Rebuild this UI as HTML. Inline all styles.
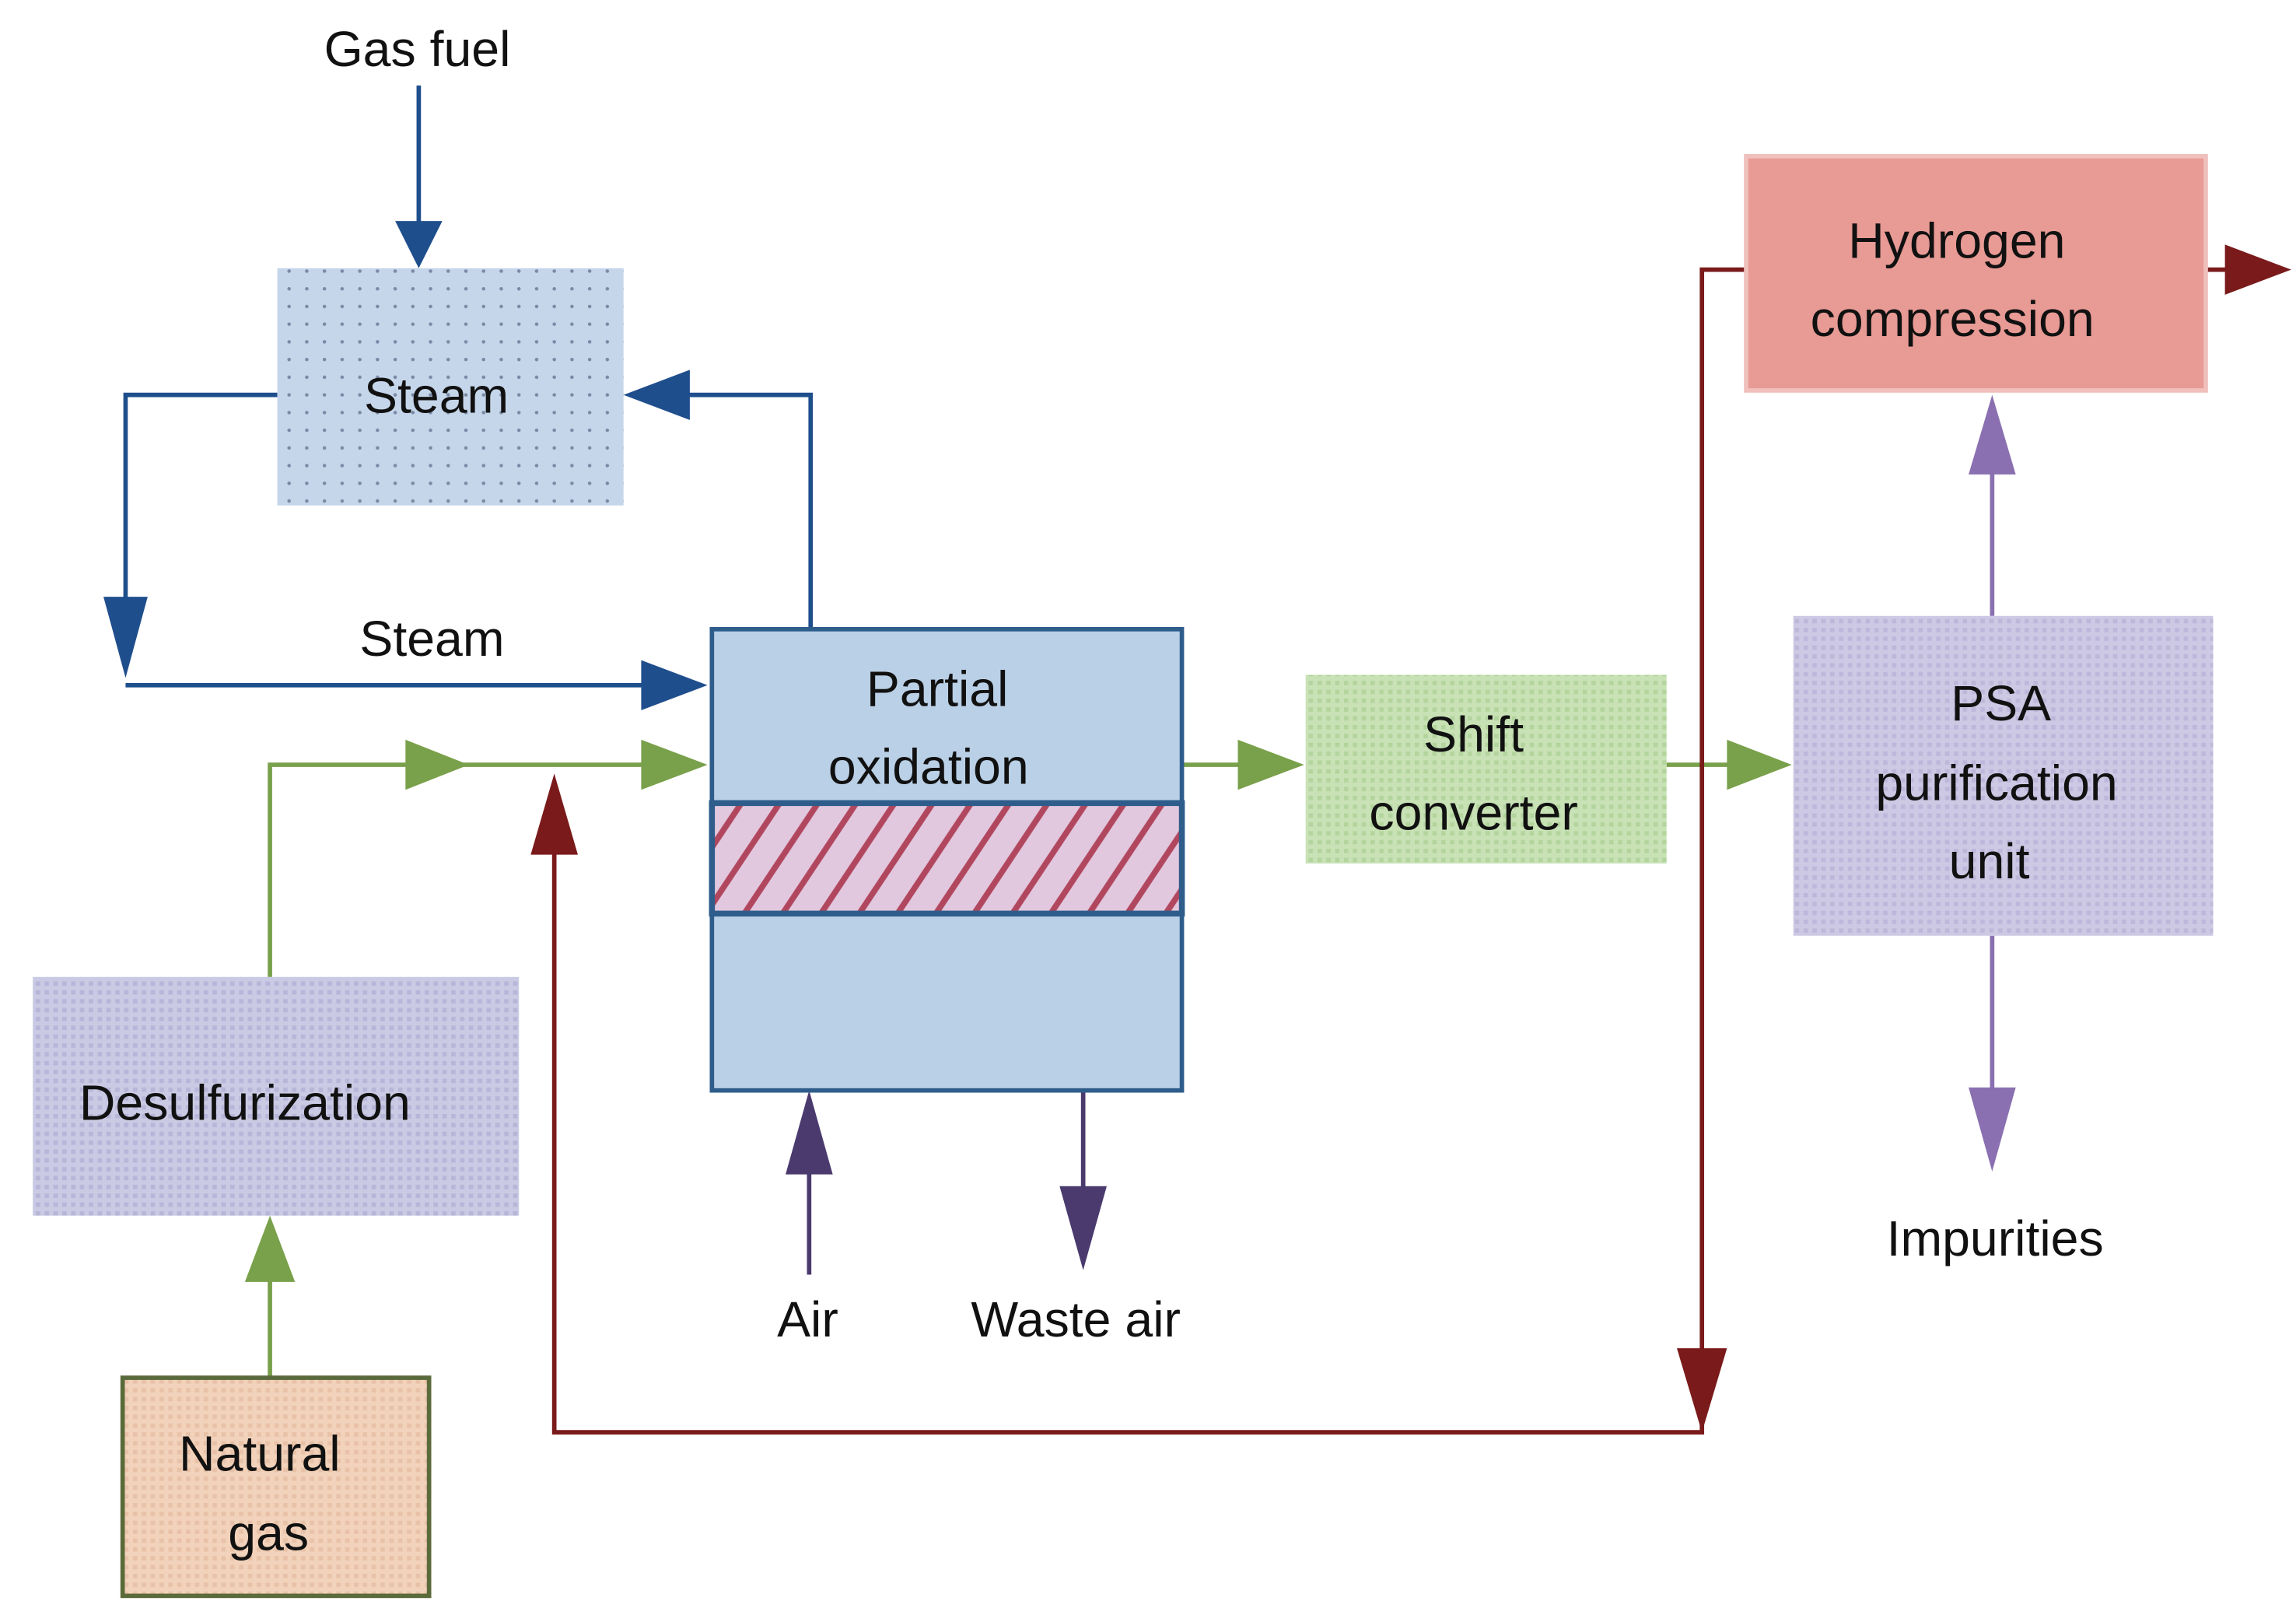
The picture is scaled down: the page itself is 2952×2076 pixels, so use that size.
<!DOCTYPE html>
<html><head><meta charset="utf-8"><style>html,body{margin:0;padding:0;background:#fff}svg{display:block}</style></head>
<body>
<svg width="2952" height="2076" viewBox="0 0 1558 1096" xmlns="http://www.w3.org/2000/svg" font-family="Liberation Sans, sans-serif" font-size="34" text-anchor="middle">
<defs>
<pattern id="dots" width="12" height="12" patternUnits="userSpaceOnUse"><rect width="12" height="12" fill="#c6d6ea"/><circle cx="4" cy="4" r="1.2" fill="#7a8aa6"/></pattern>
<pattern id="chk" width="6" height="6" patternUnits="userSpaceOnUse"><rect width="6" height="6" fill="#cacae4"/><rect width="3" height="3" fill="#b8b6d8"/></pattern>
<pattern id="chkg" width="6" height="6" patternUnits="userSpaceOnUse"><rect width="6" height="6" fill="#c8e2b6"/><rect width="3" height="3" fill="#b4d49e"/></pattern>
<pattern id="chkp" width="6" height="6" patternUnits="userSpaceOnUse"><rect width="6" height="6" fill="#cdc9e4"/><rect width="3" height="3" fill="#bdb8da"/></pattern>
<pattern id="chko" width="6" height="6" patternUnits="userSpaceOnUse"><rect width="6" height="6" fill="#f2d2ba"/><rect width="3" height="3" fill="#e8c2a8"/></pattern>
<pattern id="hatch" width="26" height="75" patternUnits="userSpaceOnUse" patternTransform="translate(483,545)"><rect width="26" height="75" fill="#e2c8de"/><line x1="-30" y1="75" x2="20" y2="0" stroke="#b0475e" stroke-width="4"/><line x1="-4" y1="75" x2="46" y2="0" stroke="#b0475e" stroke-width="4"/><line x1="22" y1="75" x2="72" y2="0" stroke="#b0475e" stroke-width="4"/></pattern>
</defs>
<rect width="1558" height="1096" fill="#fff"/>
<g fill="none" stroke-width="3">
<path d="M284 58V160" stroke="#1f4e8c"/>
<path d="M188 268H85V420M85 465H440M550 427V268H460" stroke="#1f4e8c"/>
<path d="M183 663V519H440" stroke="#79a04a"/>
<path d="M802 519H845M1131 519H1175" stroke="#79a04a"/>
<path d="M183 935V860" stroke="#79a04a"/>
<path d="M376 570V972H1155V183H1187M1497 183H1515" stroke="#7a1a1a"/>
<path d="M549 865V785M735 740V815" stroke="#4a3a6e"/>
<path d="M1352 418V310M1352 635V745" stroke="#8a70b0"/>
</g>
<g fill="#1f4e8c">
<polygon points="268,150 300,150 284,182"/>
<polygon points="70,405 100,405 85,460"/>
<polygon points="435,448 435,482 480,465"/>
<polygon points="468,251 468,285 423,268"/>
</g>
<g fill="#79a04a">
<polygon points="275,502 275,536 318,519"/>
<polygon points="435,502 435,536 480,519"/>
<polygon points="840,502 840,536 885,519"/>
<polygon points="1172,502 1172,536 1216,519"/>
<polygon points="166,870 200,870 183,825"/>
</g>
<g fill="#7a1a1a">
<polygon points="360,580 392,580 376,525"/>
<polygon points="1138,915 1172,915 1155,972"/>
<polygon points="1510,166 1510,200 1555,183"/>
</g>
<g fill="#4a3a6e">
<polygon points="533,797 565,797 549,740"/>
<polygon points="719,805 751,805 735,862"/>
</g>
<g fill="#8a70b0">
<polygon points="1336,322 1368,322 1352,268"/>
<polygon points="1336,738 1368,738 1352,795"/>
</g>
<rect x="188" y="182" width="235" height="161" fill="url(#dots)"/>
<rect x="483" y="427" width="319" height="313" fill="#bad0e6" stroke="#2e5d8c" stroke-width="3"/>
<rect x="483" y="545" width="319" height="75" fill="url(#hatch)" stroke="#2e5d8c" stroke-width="4"/>
<rect x="22" y="663" width="330" height="162" fill="url(#chk)"/>
<rect x="83" y="935" width="208" height="148" fill="url(#chko)" stroke="#5a6a3a" stroke-width="3"/>
<rect x="886" y="458" width="245" height="128" fill="url(#chkg)"/>
<rect x="1217" y="418" width="285" height="217" fill="url(#chkp)"/>
<rect x="1185" y="106" width="312" height="159" fill="#e89a94" stroke="#f0c0bc" stroke-width="3"/>
<g fill="#111">
<text x="283" y="45">Gas fuel</text>
<text x="296" y="280">Steam</text>
<text x="293" y="445">Steam</text>
<text x="636" y="479">Partial</text>
<text x="630" y="532">oxidation</text>
<text x="166" y="760">Desulfurization</text>
<text x="176" y="998">Natural</text>
<text x="182" y="1052">gas</text>
<text x="548" y="907">Air</text>
<text x="730" y="907">Waste air</text>
<text x="1000" y="510">Shift</text>
<text x="1000" y="563">converter</text>
<text x="1358" y="489">PSA</text>
<text x="1355" y="543">purification</text>
<text x="1350" y="596">unit</text>
<text x="1354" y="852">Impurities</text>
<text x="1328" y="175">Hydrogen</text>
<text x="1325" y="228">compression</text>
</g>
</svg>
</body></html>
